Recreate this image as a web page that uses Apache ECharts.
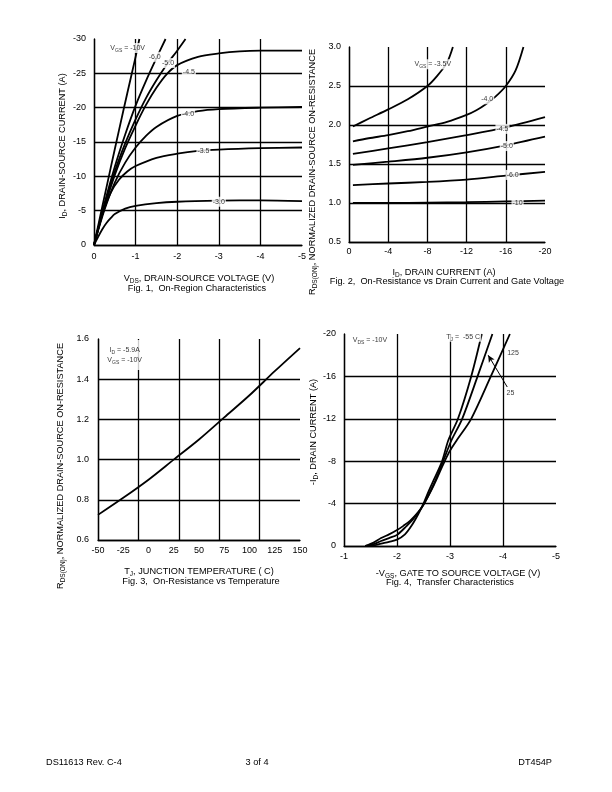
<!DOCTYPE html>
<html><head><meta charset="utf-8">
<script src="https://cdn.jsdelivr.net/npm/echarts@6/dist/echarts.min.js"></script>
<style>html,body{margin:0;padding:0;background:#fff}#c{width:612px;height:792px}</style>
</head><body><div id="c"></div>
<script>
// ---------- Fig. 1 : On-Region Characteristics (VDS, ID) ----------
const f1_vgs10 = [[0,0],[-0.2,-5.6],[-0.4,-11.2],[-0.6,-16.7],[-0.8,-22.1],[-1.0,-27.4],[-1.09,-30]];
const f1_vgs6  = [[0,0],[-0.25,-6.0],[-0.5,-11.4],[-0.75,-16.1],[-1.0,-20.3],[-1.25,-23.9],[-1.5,-27.2],[-1.72,-30]];
const f1_vgs5  = [[0,0],[-0.25,-5.7],[-0.5,-10.7],[-0.75,-14.8],[-1.0,-18.3],[-1.25,-21.4],[-1.5,-24.0],[-1.75,-26.3],[-2.0,-28.3],[-2.2,-30]];
const f1_vgs45 = [[0,0],[-0.25,-5.5],[-0.5,-10.2],[-0.75,-14.1],[-1.0,-17.4],[-1.25,-20.4],[-1.5,-22.9],[-1.75,-24.9],[-2.0,-26.2],[-2.5,-27.4],[-3.0,-27.9],[-3.5,-28.2],[-4.0,-28.3],[-5.0,-28.3]];
const f1_vgs4  = [[0,0],[-0.25,-5.1],[-0.5,-9.1],[-0.75,-12.0],[-1.0,-14.2],[-1.25,-15.9],[-1.5,-17.2],[-2.0,-18.8],[-2.5,-19.5],[-3.0,-19.8],[-4.0,-20.0],[-5.0,-20.1]];
const f1_vgs35 = [[0,0],[-0.2,-4.4],[-0.4,-7.6],[-0.6,-9.5],[-0.8,-10.7],[-1.0,-11.5],[-1.5,-12.7],[-2.0,-13.3],[-2.5,-13.7],[-3.0,-13.9],[-4.0,-14.1],[-5.0,-14.2]];
const f1_vgs3  = [[0,0],[-0.1,-1.2],[-0.2,-2.3],[-0.3,-3.2],[-0.4,-3.9],[-0.5,-4.5],[-0.75,-5.3],[-1.0,-5.7],[-1.5,-6.1],[-2.0,-6.3],[-3.0,-6.45],[-4.0,-6.5],[-5.0,-6.4]];

// ---------- Fig. 2 : On-Resistance vs Drain Current (ID, RDS norm) ----------
const f2_vgs35 = [[-0.4,1.98],[-2,2.08],[-4,2.2],[-6,2.33],[-8,2.5],[-9,2.63],[-10,2.8],[-10.6,3.0]];
const f2_vgs4  = [[-0.4,1.79],[-2,1.83],[-4,1.87],[-6,1.92],[-8,1.98],[-10,2.04],[-12,2.13],[-13,2.19],[-14,2.27],[-15,2.37],[-16,2.5],[-17,2.7],[-17.8,3.0]];
const f2_vgs45 = [[-0.4,1.63],[-4,1.7],[-8,1.78],[-12,1.87],[-16,1.97],[-20,2.1]];
const f2_vgs5  = [[-0.4,1.49],[-4,1.53],[-8,1.58],[-12,1.65],[-16,1.74],[-20,1.85]];
const f2_vgs6  = [[-0.4,1.23],[-4,1.25],[-8,1.27],[-12,1.3],[-16,1.35],[-20,1.4]];
const f2_vgs10 = [[-0.4,1.0],[-4,1.0],[-8,1.005],[-12,1.01],[-16,1.02],[-20,1.03]];

// ---------- Fig. 3 : On-Resistance vs Temperature ----------
const f3_temp = [-50,-25,0,25,50,75,100,125,150];
const f3_rds  = [0.725,0.81,0.9,1.0,1.1,1.21,1.32,1.44,1.555];

// ---------- Fig. 4 : Transfer Characteristics (VGS, ID) ----------
const f4_t125 = [[-1.4,0],[-1.55,-0.3],[-1.7,-0.75],[-1.85,-1.1],[-2.0,-1.5],[-2.12,-1.9],[-2.25,-2.4],[-2.4,-3.2],[-2.5,-3.9],[-2.6,-4.8],[-2.7,-5.8],[-2.8,-6.9],[-2.9,-8.0],[-3.0,-9.0],[-3.13,-10.0],[-3.4,-12],[-3.77,-16],[-4.13,-20]];
const f4_t25  = [[-1.4,0],[-1.55,-0.15],[-1.7,-0.47],[-1.85,-0.75],[-2.0,-1.05],[-2.18,-1.88],[-2.3,-2.5],[-2.5,-3.9],[-2.7,-5.9],[-2.87,-8.0],[-3.03,-10.0],[-3.23,-12],[-3.52,-16],[-3.8,-20]];
const f4_tm55 = [[-1.45,0],[-1.55,-0.05],[-1.7,-0.23],[-1.85,-0.4],[-2.0,-0.6],[-2.15,-1.1],[-2.27,-1.88],[-2.4,-3.0],[-2.5,-4.0],[-2.6,-5.2],[-2.7,-6.3],[-2.85,-8.0],[-2.97,-10.0],[-3.15,-12],[-3.4,-16],[-3.6,-20]];

// ---------- annotations (label text and anchor in data units) ----------
const notes = [
  {g:0, t:'{n|V}{s|GS}{n| = -10V}', at:[-0.81,-28.7]},
  {g:0, t:'{n|-6.0}', at:[-1.46,-27.4]},
  {g:0, t:'{n|-5.0}', at:[-1.78,-26.5]},
  {g:0, t:'{n|-4.5}', at:[-2.28,-25.2]},
  {g:0, t:'{n|-4.0}', at:[-2.26,-19.1]},
  {g:0, t:'{n|-3.5}', at:[-2.63,-13.7]},
  {g:0, t:'{n|-3.0}', at:[-3.0,-6.3]},
  {g:1, t:'{n|V}{s|GS}{n| = -3.5V}', at:[-8.55,2.78]},
  {g:1, t:'{n|-4.0}', at:[-14.1,2.33]},
  {g:1, t:'{n|-4.5}', at:[-15.66,1.95]},
  {g:1, t:'{n|-5.0}', at:[-16.1,1.73]},
  {g:1, t:'{n|-6.0}', at:[-16.7,1.36]},
  {g:1, t:'{n|-10}', at:[-17.2,1.0]},
  {g:2, t:'{n|I}{s|D}{n| = -5.9A}\n{n|V}{s|GS}{n| = -10V}', at:[-23.6,1.52], box:true},
  {g:3, t:'{n|V}{s|DS}{n| = -10V}', at:[-1.49,-19.4]},
  {g:3, t:'{n|T}{s|J}{n| =  -55 C}', at:[-3.25,-19.75]},
  {g:3, t:'{n|125}', at:[-4.19,-18.2]},
  {g:3, t:'{n|25}', at:[-4.14,-14.4]}
];
const arrow25 = [[-4.08,-15.0],[-3.72,-18.0]];

const FONT = '"Liberation Sans", Arial, sans-serif';
const LINE = {color:'#000', width:1.3};

function axis(o){
  const base = {
    type:'value',
    axisLine:{show:true, onZero:false, lineStyle:LINE},
    axisTick:{show:false},
    axisLabel:{color:'#000', fontSize:9, fontFamily:FONT, margin:7},
    splitLine:{show:true, lineStyle:LINE}
  };
  const r = Object.assign({}, base, o);
  if (o.splitLine) r.splitLine = Object.assign({}, base.splitLine, o.splitLine);
  if (o.axisLabel) r.axisLabel = Object.assign({}, base.axisLabel, o.axisLabel);
  return r;
}

const xAxes = [
  axis({gridIndex:0, min:-5, max:0, interval:1, inverse:true, splitLine:{showMinLine:false}}),
  axis({gridIndex:1, min:-20, max:0, interval:4, inverse:true, splitLine:{showMinLine:false}, axisLabel:{margin:5}}),
  axis({gridIndex:2, min:-50, max:150, interval:25, splitLine:{show:false}, axisLabel:{margin:6}}),
  axis({gridIndex:3, min:-5, max:-1, interval:1, inverse:true, splitLine:{showMinLine:false}, axisLabel:{margin:6}}),
  // pure grid-line axis for Fig. 3 (5 columns)
  axis({gridIndex:2, min:0, max:200, interval:40, position:'bottom', axisLine:{show:false}, axisLabel:{show:false}, splitLine:{showMaxLine:false}})
];
const yAxes = [
  axis({gridIndex:0, min:-30, max:0, interval:5, inverse:true, splitLine:{showMinLine:false}, axisLabel:{margin:8}}),
  axis({gridIndex:1, min:0.5, max:3.0, interval:0.5, splitLine:{showMaxLine:false}, axisLabel:{margin:8, formatter:v=>v.toFixed(1)}}),
  axis({gridIndex:2, min:0.6, max:1.6, interval:0.2, splitLine:{showMaxLine:false}, axisLabel:{margin:9, formatter:v=>v.toFixed(1)}}),
  axis({gridIndex:3, min:-20, max:0, interval:4, inverse:true, splitLine:{showMinLine:false}, axisLabel:{margin:8}})
];

function curve(g, data){
  return {type:'line', xAxisIndex:g, yAxisIndex:g, data:data, showSymbol:false, smooth:0.3,
          silent:true, z:3, lineStyle:{color:'#000', width:1.8}};
}
const series = [
  curve(0,f1_vgs10), curve(0,f1_vgs6), curve(0,f1_vgs5), curve(0,f1_vgs45), curve(0,f1_vgs4), curve(0,f1_vgs35), curve(0,f1_vgs3),
  curve(1,f2_vgs35), curve(1,f2_vgs4), curve(1,f2_vgs45), curve(1,f2_vgs5), curve(1,f2_vgs6), curve(1,f2_vgs10),
  curve(2,f3_temp.map((t,i)=>[t,f3_rds[i]])),
  curve(3,f4_tm55), curve(3,f4_t25), curve(3,f4_t125)
];
series[series.length-2].markLine = {
  silent:true, symbol:['none','arrow'], symbolSize:[5,7], animation:false,
  label:{show:false}, lineStyle:{color:'#000', width:1, type:'solid'},
  data:[[{coord:arrow25[0]},{coord:arrow25[1]}]]
};
const RICH_SMALL = {
  n:{fontSize:7, fontFamily:FONT, color:'#000', lineHeight:10, verticalAlign:'middle'},
  s:{fontSize:5, fontFamily:FONT, color:'#000', lineHeight:5, verticalAlign:'bottom'}
};
for (let g=0; g<4; g++){
  const items = notes.filter(n=>n.g===g);
  items.forEach(n=>{
    series.push({type:'scatter', xAxisIndex:g, yAxisIndex:g, symbolSize:0, silent:true, z:6,
      data:[n.at],
      label:{show:true, position:'inside', formatter:n.t, backgroundColor:'#fff',
             padding: n.box ? [5,5] : [0,1], rich:RICH_SMALL, lineHeight:10}});
  });
}

const RICH_T = {
  n:{fontSize:9.2, fontFamily:FONT, fill:'#000', lineHeight:13, verticalAlign:'middle'},
  s:{fontSize:6.5, fontFamily:FONT, fill:'#000', lineHeight:6, verticalAlign:'bottom'}
};
function txt(x, y, text, rot, align){
  return {type:'text', x:x, y:y, rotation: rot||0, silent:true,
    style:{text:text, rich:RICH_T, font:'9.2px '+FONT, fill:'#000', align:align||'center', verticalAlign:'middle'}};
}
const graphic = [
  txt(199, 278, '{n|V}{s|DS}{n|, DRAIN-SOURCE VOLTAGE (V)}'),
  txt(197, 288, '{n|Fig. 1,  On-Region Characteristics}'),
  txt(62, 146, '{n|I}{s|D}{n|, DRAIN-SOURCE CURRENT (A)}', Math.PI/2),
  txt(444, 272, '{n|I}{s|D}{n|, DRAIN CURRENT (A)}'),
  txt(447, 281, '{n|Fig. 2,  On-Resistance vs Drain Current and Gate Voltage}'),
  txt(312, 172, '{n|R}{s|DS(ON)}{n|, NORMALIZED DRAIN-SOURCE ON-RESISTANCE}', Math.PI/2),
  txt(199, 571, '{n|T}{s|J}{n|, JUNCTION TEMPERATURE ( C)}'),
  txt(201, 581, '{n|Fig. 3,  On-Resistance vs Temperature}'),
  txt(60, 466, '{n|R}{s|DS(ON)}{n|, NORMALIZED DRAIN-SOURCE ON-RESISTANCE}', Math.PI/2),
  txt(458, 573, '{n|-V}{s|GS}{n|, GATE TO SOURCE VOLTAGE (V)}'),
  txt(450, 582, '{n|Fig. 4,  Transfer Characteristics}'),
  txt(313, 432, '{n|-I}{s|D}{n|, DRAIN CURRENT (A)}', Math.PI/2),
  txt(46, 762, '{n|DS11613 Rev. C-4}', 0, 'left'),
  txt(257, 762, '{n|3 of 4}'),
  txt(552, 762, '{n|DT454P}', 0, 'right')
];

const chart = echarts.init(document.getElementById('c'), null, {renderer:'canvas'});
chart.setOption({
  animation:false,
  backgroundColor:'#fff',
  grid:[
    {left:94, top:39, width:208, height:206},
    {left:349, top:47, width:196, height:195},
    {left:98, top:339, width:202, height:201},
    {left:344, top:334, width:212, height:212}
  ],
  xAxis:xAxes, yAxis:yAxes, series:series, graphic:graphic
});
</script></body></html>
